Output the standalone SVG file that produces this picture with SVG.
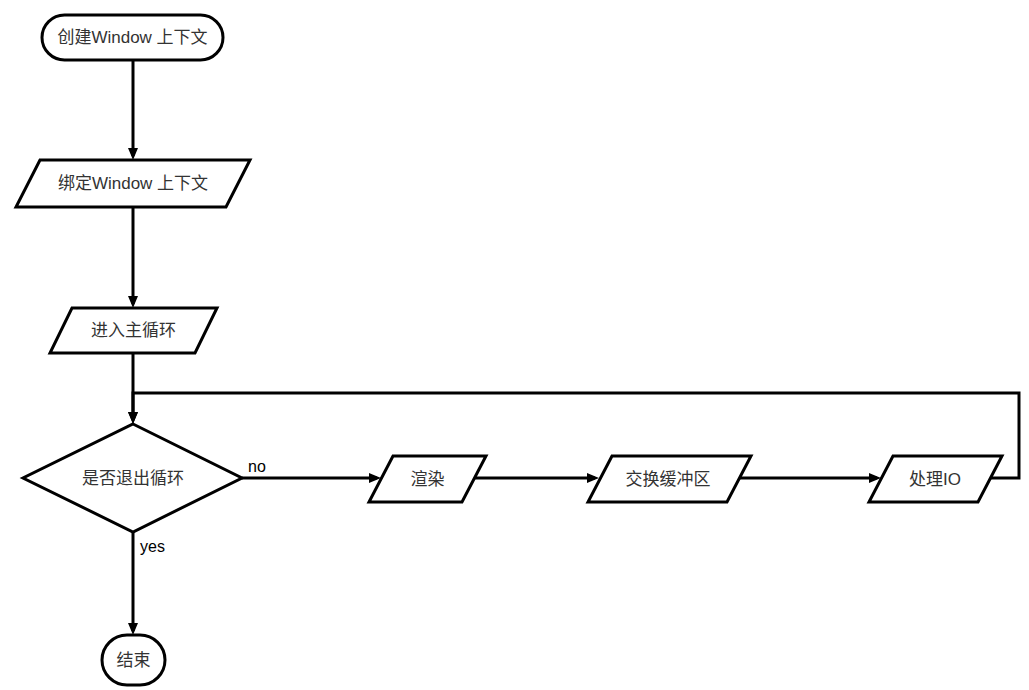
<svg xmlns="http://www.w3.org/2000/svg" width="1029" height="690" viewBox="0 0 1029 690">
<style>
.shape{fill:#ffffff;stroke:#000000;stroke-width:3;stroke-linejoin:miter}
.edge{fill:none;stroke:#000000;stroke-width:3}
.lbl{font-family:"Liberation Sans","Noto Sans CJK SC",sans-serif;font-size:17px;fill:#333333;text-anchor:middle;dominant-baseline:central}
.elbl{font-family:"Liberation Sans","Noto Sans CJK SC",sans-serif;font-size:16px;fill:#000000}
</style>
<defs>
<marker id="arr" markerUnits="userSpaceOnUse" markerWidth="12" markerHeight="10" viewBox="0 0 12 10" refX="8" refY="5" orient="auto">
<path d="M0,0 L12,5 L0,10 z" fill="#000000"/>
</marker>
</defs>
<rect width="1029" height="690" fill="#ffffff"/>
<g id="connectors">
<path class="edge" d="M133,60 V156" marker-end="url(#arr)"/>
<path class="edge" d="M133,207 V304" marker-end="url(#arr)"/>
<path class="edge" d="M133,353 V420" marker-end="url(#arr)"/>
<path class="edge" d="M990,478 H1019 V393 H133 V420" marker-end="url(#arr)"/>
<path class="edge" d="M242,478 H377" marker-end="url(#arr)"/>
<path class="edge" d="M475,478 H595" marker-end="url(#arr)"/>
<path class="edge" d="M739,478 H877" marker-end="url(#arr)"/>
<path class="edge" d="M133,532 V631" marker-end="url(#arr)"/>
<text class="elbl" x="248" y="472">no</text>
<text class="elbl" x="140" y="552">yes</text>
</g>
<g id="start">
<rect class="shape" x="42" y="15" width="181" height="45" rx="22.5" ry="22.5"/>
<text class="lbl" x="132.5" y="37.5">创建Window 上下文</text>
</g>
<g id="bind">
<polygon class="shape" points="40,160 250,160 226,207 16,207"/>
<text class="lbl" x="133" y="183.5">绑定Window 上下文</text>
</g>
<g id="enterloop">
<polygon class="shape" points="72,308 217,308 195,353 50,353"/>
<text class="lbl" x="133.5" y="330.5">进入主循环</text>
</g>
<g id="decision">
<polygon class="shape" points="133,424 242,478 133,532 23,478"/>
<text class="lbl" x="133" y="478">是否退出循环</text>
</g>
<g id="render">
<polygon class="shape" points="393,456 486,456 462,502 369,502"/>
<text class="lbl" x="427.5" y="479">渲染</text>
</g>
<g id="swap">
<polygon class="shape" points="612,456 751,456 727,502 588,502"/>
<text class="lbl" x="668" y="479">交换缓冲区</text>
</g>
<g id="io">
<polygon class="shape" points="893,456 1002,456 978,502 869,502"/>
<text class="lbl" x="935" y="479">处理IO</text>
</g>
<g id="end">
<rect class="shape" x="102" y="635" width="63" height="50" rx="25" ry="25"/>
<text class="lbl" x="133.5" y="660">结束</text>
</g>
</svg>
